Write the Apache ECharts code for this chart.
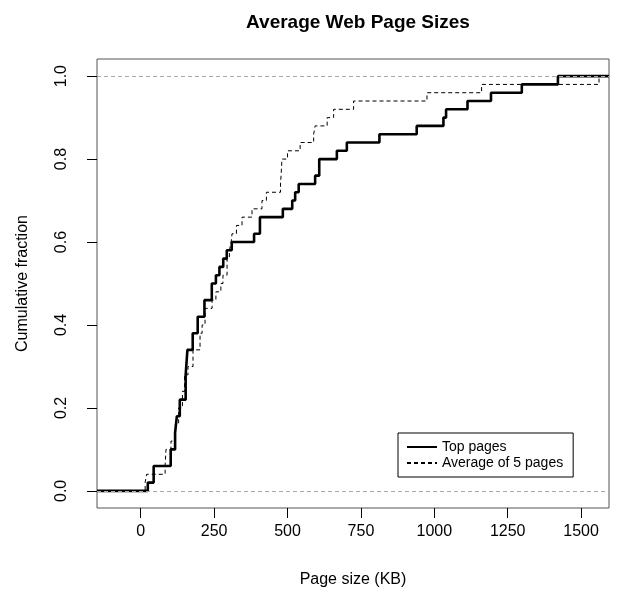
<!DOCTYPE html>
<html>
<head>
<meta charset="utf-8">
<script src="https://cdn.jsdelivr.net/npm/echarts@6/dist/echarts.min.js"></script>
<style>html,body{margin:0;padding:0;background:#fff}#c{width:630px;height:596px}</style>
</head>
<body>
<div id="c"></div>
<script>
// Step positions (KB) and cumulative fraction after each step
const topPagesX = [24, 44, 102, 117, 123, 133, 153, 159, 177, 194, 217, 242, 256, 268, 281, 293, 310, 386, 406, 484, 516, 526, 538, 594, 608, 668, 702, 813, 940, 1031, 1040, 1113, 1193, 1298, 1421];
const topPagesY = [0.02, 0.06, 0.10, 0.14, 0.18, 0.22, 0.28, 0.34, 0.38, 0.42, 0.46, 0.50, 0.52, 0.54, 0.56, 0.58, 0.60, 0.62, 0.66, 0.68, 0.70, 0.72, 0.74, 0.76, 0.80, 0.82, 0.84, 0.86, 0.88, 0.90, 0.92, 0.94, 0.96, 0.98, 1.00];
const avgPagesX = [15, 20, 83, 86, 103, 118, 129, 142, 149, 161, 178, 202, 209, 219, 243, 256, 273, 280, 294, 302, 308, 311, 326, 345, 379, 413, 428, 476, 478, 481, 500, 543, 589, 594, 635, 657, 725, 975, 1161, 1561];
const avgPagesY = [0.02, 0.04, 0.06, 0.10, 0.12, 0.16, 0.20, 0.24, 0.28, 0.30, 0.34, 0.38, 0.40, 0.44, 0.46, 0.48, 0.50, 0.52, 0.56, 0.58, 0.60, 0.62, 0.64, 0.66, 0.68, 0.70, 0.72, 0.74, 0.76, 0.80, 0.82, 0.84, 0.86, 0.88, 0.90, 0.92, 0.94, 0.96, 0.98, 1.00];
const xTicks = [0, 250, 500, 750, 1000, 1250, 1500];
const yTicks = [0, 0.2, 0.4, 0.6, 0.8, 1.0];
const seriesNames = ['Top pages', 'Average of 5 pages'];

const X_MIN = -149, X_MAX = 1595, Y_MIN = -0.0413, Y_MAX = 1.0413;

function stepData(xs, ys) {
  const d = [[X_MIN, 0]];
  for (let i = 0; i < xs.length; i++) d.push([xs[i], ys[i]]);
  d.push([X_MAX, ys[ys.length - 1]]);
  return d;
}

const FONT = '"Liberation Sans", Arial, Helvetica, sans-serif';
const chart = echarts.init(document.getElementById('c'), null, {renderer: 'canvas'});
chart.setOption({
  animation: false,
  backgroundColor: '#fff',
  title: {
    text: 'Average Web Page Sizes',
    left: 353, top: 8, textAlign: 'center',
    textStyle: {fontFamily: FONT, fontWeight: 'bold', fontSize: 19, color: '#000'}
  },
  grid: {left: 97, right: 21, top: 59, bottom: 88, show: true, borderColor: '#555', borderWidth: 1, backgroundColor: 'transparent'},
  legend: {
    data: seriesNames,
    orient: 'vertical', left: 398, top: 433,
    borderColor: '#000', borderWidth: 1, borderRadius: 0,
    padding: [7, 10, 7, 8],
    itemWidth: 30, itemHeight: 14, itemGap: 2,
    itemStyle: {color: 'rgba(0,0,0,0)', borderColor: 'rgba(0,0,0,0)', borderWidth: 0},
    textStyle: {fontFamily: FONT, fontSize: 14, color: '#000'},
    selectedMode: false
  },
  xAxis: {
    type: 'value', min: X_MIN, max: X_MAX,
    name: 'Page size (KB)', nameLocation: 'middle', nameGap: 64,
    nameTextStyle: {fontFamily: FONT, fontSize: 16, color: '#000'},
    axisLine: {show: false, onZero: false},
    axisTick: {show: true, length: 10, customValues: xTicks, lineStyle: {color: '#000'}},
    axisLabel: {customValues: xTicks, margin: 16, fontFamily: FONT, fontSize: 16, color: '#000',
      formatter: v => String(v)},
    splitLine: {show: false}
  },
  yAxis: {
    type: 'value', min: Y_MIN, max: Y_MAX,
    name: 'Cumulative fraction', nameLocation: 'middle', nameGap: 66, nameRotate: 90,
    nameTextStyle: {fontFamily: FONT, fontSize: 16, color: '#000'},
    axisLine: {show: false, onZero: false},
    axisTick: {show: true, length: 10, customValues: yTicks, lineStyle: {color: '#000'}},
    axisLabel: {customValues: yTicks, rotate: 90, margin: 27, fontFamily: FONT, fontSize: 16, color: '#000',
      formatter: v => v.toFixed(1)},
    splitLine: {show: false}
  },
  series: [
    {
      name: 'ref', type: 'line', data: [], silent: true, z: 1,
      markLine: {
        silent: true, symbol: ['none', 'none'], label: {show: false},
        lineStyle: {type: [4, 3], color: '#aaa', width: 1},
        data: [{yAxis: 0}, {yAxis: 1}]
      }
    },
    {
      name: seriesNames[0], type: 'line', step: 'end', showSymbol: false, symbol: 'none', z: 3,
      data: stepData(topPagesX, topPagesY),
      lineStyle: {color: '#000', width: 2.6, type: 'solid'},
      itemStyle: {color: '#000'}
    },
    {
      name: seriesNames[1], type: 'line', step: 'end', showSymbol: false, symbol: 'none', z: 2,
      data: stepData(avgPagesX, avgPagesY),
      lineStyle: {color: '#000', width: 1, type: [4, 3]},
      itemStyle: {color: '#000'}
    }
  ]
});
</script>
</body>
</html>
